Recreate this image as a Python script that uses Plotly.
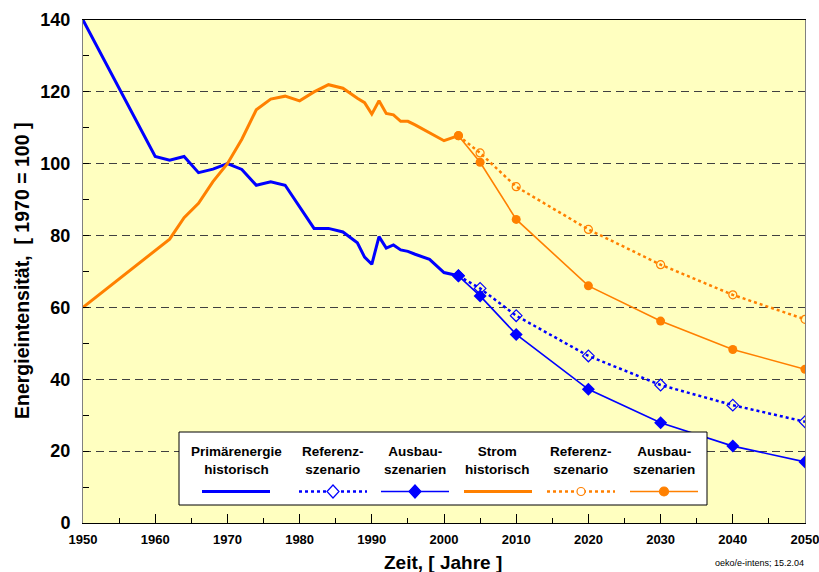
import plotly.graph_objects as go

# ---------------- data ----------------
prim_hist_years = [1950, 1960, 1962, 1964, 1966, 1968, 1970, 1972, 1974, 1976, 1978, 1980,
                   1982, 1984, 1986, 1988, 1989, 1990, 1991, 1992, 1993, 1994, 1995, 1996,
                   1998, 2000, 2002]
prim_hist_vals = [140, 102, 101, 102, 97.5, 98.5, 100, 98.4, 94, 95, 94, 88,
                  82, 82, 81, 78, 74, 72, 79.7, 76.5, 77.4, 76, 75.6, 74.8,
                  73.4, 69.7, 68.8]

strom_hist_years = [1950, 1962, 1964, 1966, 1968, 1970, 1972, 1974, 1976, 1978, 1980,
                    1982, 1984, 1986, 1988, 1989, 1990, 1991, 1992, 1993, 1994, 1995, 1996,
                    1998, 2000, 2002]
strom_hist_vals = [60, 79, 85, 89, 95, 100, 106.8, 115, 118, 118.8, 117.5,
                   120, 122, 121, 118.2, 117, 113.8, 117.5, 114, 113.6, 111.8, 111.8, 110.8,
                   108.6, 106.4, 107.8]

scen_years = [2002, 2005, 2010, 2020, 2030, 2040, 2050]
prim_ref = [68.8, 65.3, 57.7, 46.5, 38.4, 32.8, 28.2]
prim_ausbau = [68.8, 63.2, 52.5, 37.2, 27.9, 21.4, 17.0]
strom_ref = [107.8, 103.0, 93.6, 81.7, 71.9, 63.5, 56.7]
strom_ausbau = [107.8, 100.4, 84.5, 66.0, 56.2, 48.3, 42.8]

legend_labels = ["Primärenergie<br>historisch", "Referenz-<br>szenario", "Ausbau-<br>szenarien",
                 "Strom<br>historisch", "Referenz-<br>szenario", "Ausbau-<br>szenarien"]

x_title = "Zeit, [ Jahre ]"
y_title = "Energieintensität,  [ 1970 = 100 ]"
source_note = "oeko/e-intens; 15.2.04"

# ---------------- style ----------------
BLUE = "#0000FF"
ORANGE = "#FF8000"
BG = "#FFFFC0"
FONT = "Liberation Sans, Arial, sans-serif"

W, H = 819, 572
L, R, T, B = 83, 14, 20, 49
PW, PH = W - L - R, H - T - B


def px(xp):
    return (xp - L) / PW


def py(yp):
    return (H - B - yp) / PH


fig = go.Figure()

fig.add_trace(go.Scatter(x=prim_hist_years, y=prim_hist_vals, mode="lines",
                         line=dict(color=BLUE, width=3), showlegend=False))
fig.add_trace(go.Scatter(x=strom_hist_years, y=strom_hist_vals, mode="lines",
                         line=dict(color=ORANGE, width=3), showlegend=False))
fig.add_trace(go.Scatter(x=scen_years, y=prim_ref, mode="lines+markers",
                         line=dict(color=BLUE, width=2.5, dash="dot"),
                         marker=dict(symbol="diamond-open", size=9, color=BLUE, line=dict(width=1.2)),
                         showlegend=False))
fig.add_trace(go.Scatter(x=scen_years, y=strom_ref, mode="lines+markers",
                         line=dict(color=ORANGE, width=2.5, dash="dot"),
                         marker=dict(symbol="circle-open", size=8, color=ORANGE, line=dict(width=1.2)),
                         showlegend=False))
fig.add_trace(go.Scatter(x=scen_years, y=prim_ausbau, mode="lines+markers",
                         line=dict(color=BLUE, width=1.6),
                         marker=dict(symbol="diamond", size=10, color=BLUE),
                         showlegend=False))
fig.add_trace(go.Scatter(x=scen_years, y=strom_ausbau, mode="lines+markers",
                         line=dict(color=ORANGE, width=1.6),
                         marker=dict(symbol="circle", size=9, color=ORANGE),
                         showlegend=False))

shapes = []
annotations = []

# custom legend box
shapes.append(dict(type="rect", xref="paper", yref="paper", layer="above",
                   x0=px(179), x1=px(707), y0=py(505), y1=py(432),
                   fillcolor="white", line=dict(color="black", width=1)))

col_centers = [236, 333, 415, 498, 581, 664]
sample_y = 491.5
half_len = 34
styles = [
    (BLUE, 3, "solid", None),
    (BLUE, 2.5, "dot", "diamond-open"),
    (BLUE, 1.6, "solid", "diamond"),
    (ORANGE, 3, "solid", None),
    (ORANGE, 2.5, "dot", "circle-open"),
    (ORANGE, 1.6, "solid", "circle"),
]
for i, (cx, lab, st) in enumerate(zip(col_centers, legend_labels, styles)):
    color, width, dash, sym = st
    annotations.append(dict(xref="paper", yref="paper", x=px(cx), y=py(460),
                            xanchor="center", yanchor="middle", showarrow=False,
                            text=lab, align="center",
                            font=dict(family=FONT, size=13.5, color="black", weight="bold")))
    shapes.append(dict(type="line", xref="paper", yref="paper", layer="above",
                       x0=px(cx - half_len), x1=px(cx + half_len), y0=py(sample_y), y1=py(sample_y),
                       line=dict(color=color, width=width, dash=dash)))
    if sym in ("diamond", "diamond-open"):
        hw, hh = 6, 6.5
        path = (f"M {px(cx - hw)},{py(sample_y)} L {px(cx)},{py(sample_y - hh)} "
                f"L {px(cx + hw)},{py(sample_y)} L {px(cx)},{py(sample_y + hh)} Z")
        shapes.append(dict(type="path", xref="paper", yref="paper", layer="above", path=path,
                           fillcolor=color if sym == "diamond" else "white",
                           line=dict(color=color, width=1.2)))
    elif sym in ("circle", "circle-open"):
        r = 4.5 if sym == "circle" else 4
        shapes.append(dict(type="circle", xref="paper", yref="paper", layer="above",
                           x0=px(cx - r), x1=px(cx + r), y0=py(sample_y + r), y1=py(sample_y - r),
                           fillcolor=color if sym == "circle" else "white",
                           line=dict(color=color, width=1.2)))

# axis titles & note
annotations.append(dict(xref="paper", yref="paper", x=px(443), y=py(562),
                        xanchor="center", yanchor="middle", showarrow=False, text=x_title,
                        font=dict(family=FONT, size=19, color="black", weight="bold")))
annotations.append(dict(xref="paper", yref="paper", x=px(22), y=py(271),
                        xanchor="center", yanchor="middle", showarrow=False, text=y_title,
                        textangle=-90,
                        font=dict(family=FONT, size=19.5, color="black", weight="bold")))
annotations.append(dict(xref="paper", yref="paper", x=px(806), y=py(563),
                        xanchor="right", yanchor="middle", showarrow=False, text=source_note,
                        font=dict(family=FONT, size=9, color="black")))

fig.update_layout(
    width=W, height=H,
    margin=dict(l=L, r=R, t=T, b=B, autoexpand=False),
    paper_bgcolor="white",
    plot_bgcolor=BG,
    shapes=shapes,
    annotations=annotations,
    showlegend=False,
    font=dict(family=FONT, color="black"),
)

fig.update_xaxes(
    range=[1950, 2050], dtick=10, tick0=1950,
    showgrid=False, zeroline=False,
    showline=True, linecolor="black", linewidth=1, mirror=True,
    ticks="inside", ticklen=9, tickcolor="black", tickwidth=1,
    minor=dict(dtick=5, ticks="inside", ticklen=5, tickcolor="black", showgrid=False),
    tickfont=dict(family=FONT, size=13, color="black", weight="bold"),
    ticklabelstandoff=4, ticklabeloverflow="allow",
)
fig.update_yaxes(
    range=[0, 140], dtick=20, tick0=0,
    showgrid=True, gridcolor="#404040", gridwidth=1, griddash="8px,5px",
    zeroline=False,
    showline=True, linecolor="#808080", linewidth=1, mirror=True,
    ticks="inside", ticklen=6, tickcolor="black", tickwidth=1,
    minor=dict(dtick=10, ticks="inside", ticklen=6, tickcolor="black", showgrid=False),
    tickfont=dict(family=FONT, size=18, color="black", weight="bold"),
    ticklabelstandoff=8, ticklabeloverflow="allow",
)

fig.write_html("out.html", config={"displayModeBar": False},
               post_script="document.body.style.margin='0px';document.body.style.padding='0px';")
